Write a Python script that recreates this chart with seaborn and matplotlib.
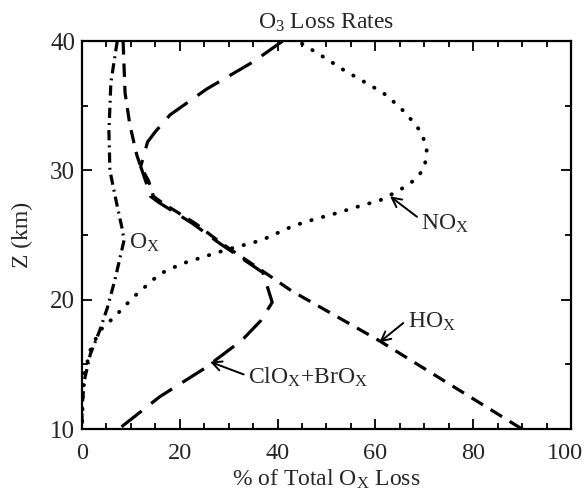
import matplotlib
matplotlib.use("Agg")
import matplotlib.pyplot as plt
import matplotlib.transforms as mtransforms
import seaborn as sns
import numpy as np
from matplotlib.ticker import MultipleLocator

# ---- data ----
ox_pct = [7.2, 5.9, 5.5, 5.7, 7.0, 8.2, 8.6, 6.7, 5.2, 3.6, 1.7, 0.5, 0.0, 0.0]
ox_z = [40, 36.8, 33, 30, 27.6, 25.5, 24.6, 21.5, 19.4, 17.6, 15.8, 13.8, 11.7, 10]

hox_pct = [8.4, 8.8, 9.8, 11.2, 12.0, 13.6, 14.6, 16.4, 19.8, 23.2, 28.4, 37.4, 42.8, 60.5, 90.0]
hox_z = [40, 36, 33.5, 31.2, 30.3, 29.2, 28, 27.5, 26.7, 25.9, 24.4, 22.1, 20.7, 16.9, 10]

clox_pct = [41.0, 35.0, 25.5, 18.0, 15.0, 13.4, 12.0, 13.0, 14.0, 15.8, 19.2, 22.6, 28.0, 37.0,
            38.9, 36.6, 32.8, 25.1, 15.9, 7.5]
clox_z = [40, 38.4, 36.3, 34.3, 33.0, 32.2, 30.3, 29.2, 28, 27.5, 26.7, 25.9, 24.4, 22.1,
          19.8, 18.4, 16.9, 14.7, 12.5, 10]

nox_pct = [45.0, 49.3, 53.4, 57.5, 61.6, 65.0, 67.4, 69.5, 70.5, 70.1, 68.7, 67.1, 64.6, 61.0,
           56.4, 52.1, 47.3, 43.1, 36.7, 29.8, 20.5, 15.9, 10.5, 6.7, 3.6, 1.7, 0.5, 0.15, 0.0]
nox_z = [39.8, 38.8, 37.8, 36.9, 36, 34.9, 33.9, 32.9, 31.6, 30.3, 29.5, 29, 28.4, 27.7,
         27.2, 26.7, 26.2, 25.7, 24.6, 23.9, 22.8, 22, 20.2, 18.7, 17.6, 16.1, 14.3, 12.5, 10]

x_ticks = [0, 20, 40, 60, 80, 100]
y_ticks = [10, 20, 30, 40]

sns.set_theme(style="ticks")
plt.rcParams['font.family'] = ['Liberation Serif', 'DejaVu Serif']
plt.rcParams['mathtext.fontset'] = 'custom'
plt.rcParams['mathtext.rm'] = 'Liberation Serif'
plt.rcParams['mathtext.it'] = 'Liberation Serif:italic'

fig = plt.figure(figsize=(5.88, 4.96), dpi=100)
ax = fig.add_axes([0.1395, 0.135, 0.8315, 0.782])

lw = 2.3
sns.lineplot(x=ox_pct, y=ox_z, sort=False, estimator=None, ax=ax, color='black', lw=lw)
sns.lineplot(x=hox_pct, y=hox_z, sort=False, estimator=None, ax=ax, color='black', lw=lw)
sns.lineplot(x=clox_pct, y=clox_z, sort=False, estimator=None, ax=ax, color='black', lw=lw)
sns.lineplot(x=nox_pct, y=nox_z, sort=False, estimator=None, ax=ax, color='black', lw=2.8)
lines = ax.get_lines()
lines[0].set_linestyle((0, (3.2, 1.6, 0.6, 1.6)))
lines[1].set_linestyle((0, (4.2, 2.8)))
lines[2].set_linestyle((0, (8.0, 3.8)))
lines[3].set_linestyle((0, (0.1, 3.0)))
lines[3].set_dash_capstyle('round')

ax.set_xlim(0, 100)
ax.set_ylim(10, 40)
ax.set_xticks(x_ticks)
ax.set_yticks(y_ticks)
ax.xaxis.set_minor_locator(MultipleLocator(5))
ax.yaxis.set_minor_locator(MultipleLocator(5))
ax.tick_params(which='both', direction='in', top=True, right=True, width=1.3, color='black')
ax.tick_params(which='major', length=7)
ax.tick_params(which='minor', length=4)
ax.tick_params(axis='x', which='major', labelsize=17.5, pad=10)
ax.tick_params(axis='y', which='major', labelsize=18, pad=5)
for s in ax.spines.values():
    s.set_linewidth(1.6)
    s.set_color('black')

# nudge the last x tick label so it stays inside the canvas
fig.canvas.draw()
last = ax.get_xticklabels()[-1]
last.set_transform(last.get_transform() + mtransforms.ScaledTranslation(-4 / 72, 0, fig.dpi_scale_trans))

ax.set_title(r'O$_3$ Loss Rates', fontsize=17, pad=9)
ax.set_xlabel(r'% of Total O$_\mathrm{X}$ Loss', fontsize=17, labelpad=3)
ax.set_ylabel('Z (km)', fontsize=17, labelpad=12)

arrow = dict(arrowstyle='->', color='black', lw=1.4, mutation_scale=17, shrinkA=1, shrinkB=0)
ax.annotate(r'NO$_\mathrm{X}$', xy=(63.0, 28.0), xytext=(69.4, 25.9), fontsize=17,
            va='center', ha='left', arrowprops=dict(arrow, relpos=(0, 0.65)))
ax.annotate(r'HO$_\mathrm{X}$', xy=(60.8, 16.7), xytext=(66.6, 18.3), fontsize=17,
            va='center', ha='left', arrowprops=dict(arrow, relpos=(0, 0.6)))
ax.annotate(r'ClO$_\mathrm{X}$+BrO$_\mathrm{X}$', xy=(26.2, 15.2), xytext=(34.0, 14.0),
            fontsize=17, va='center', ha='left', arrowprops=dict(arrow, relpos=(0, 0.55)))
ax.text(9.7, 24.4, r'O$_\mathrm{X}$', fontsize=17, va='center', ha='left')

fig.savefig('out.png', dpi=100)
